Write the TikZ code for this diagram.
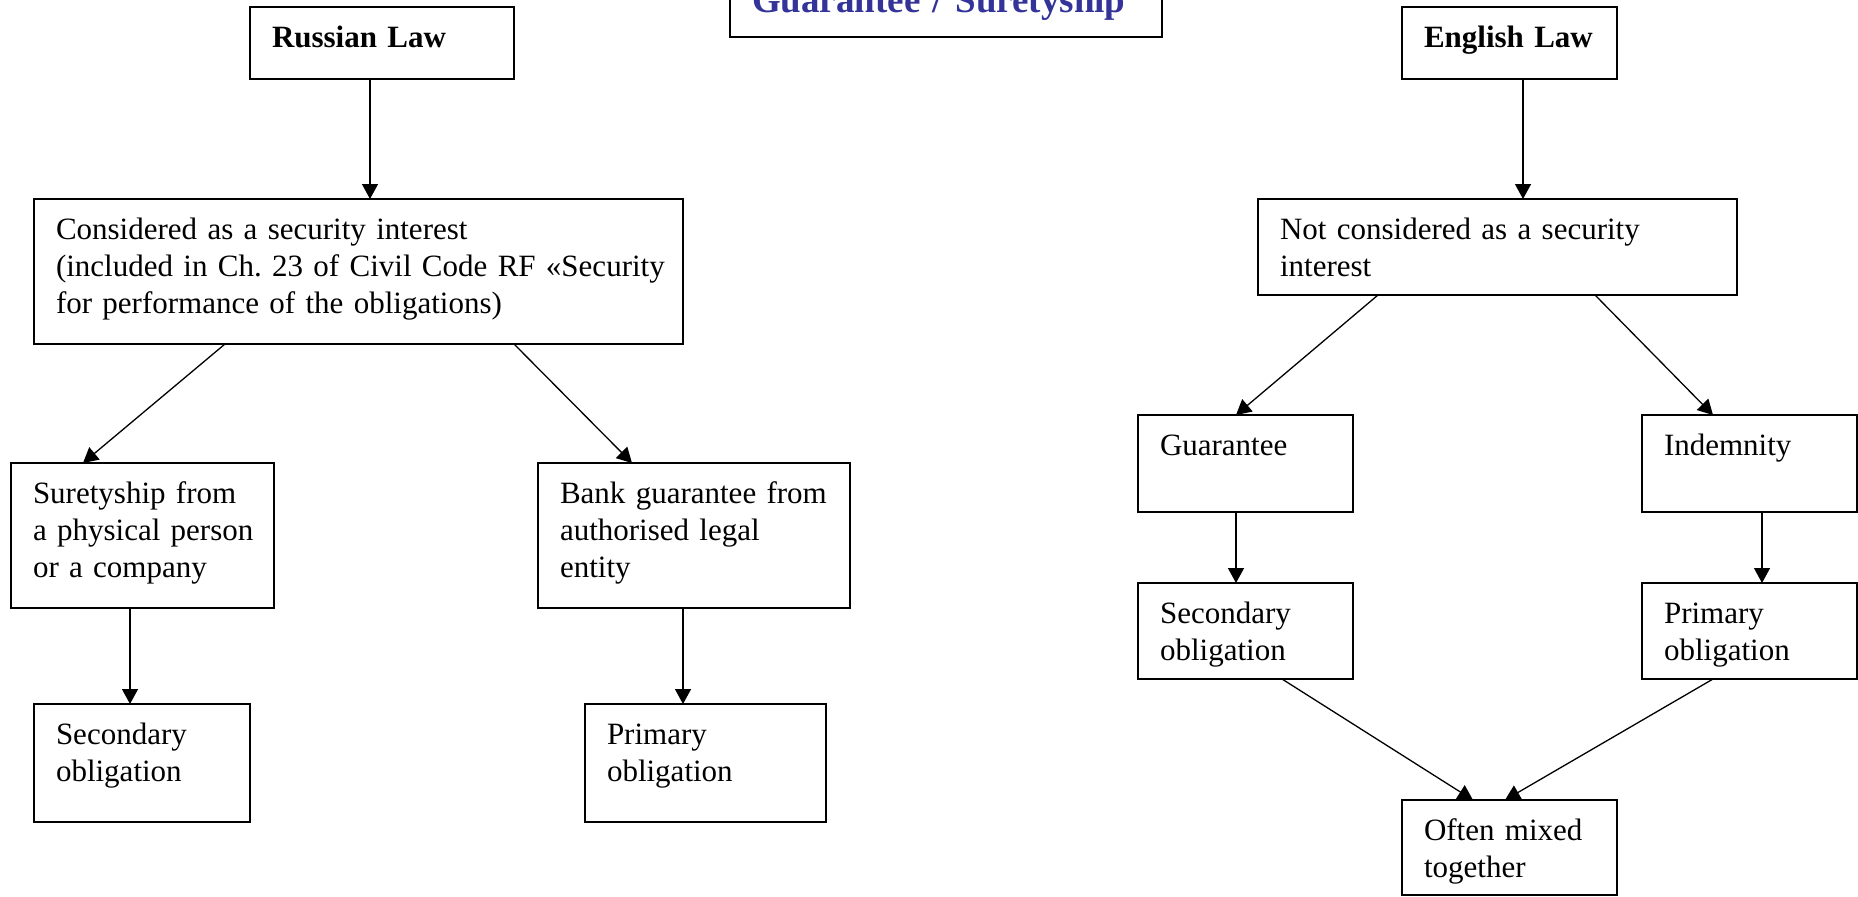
\documentclass[tikz,border=0pt]{standalone}
\usepackage{fontspec}
\setmainfont{Liberation Serif}
\usetikzlibrary{arrows.meta}
\definecolor{TitleClr}{RGB}{51,51,153}
\frenchspacing

\tikzset{
  lawbox/.style={draw, line width=0.75pt, anchor=north west, inner xsep=11pt, inner ysep=0pt,
    outer sep=0pt, text height=20pt, align=left, font=\fontsize{15.5}{18.6}\selectfont},
  headbox/.style={lawbox, font=\fontsize{15.5}{18.6}\selectfont\bfseries},
  arr/.style={line width=0.65pt, -{Triangle[length=7.5pt,width=8pt]}}
}

\begin{document}
\begin{tikzpicture}[x=1pt,y=1pt]
\useasboundingbox (0,0) rectangle (929,-448);
\clip (0,0) rectangle (929,-448);

\node[lawbox, text width=194pt, text depth=12.15pt, text=TitleClr,
  font=\fontsize{18.5}{21}\selectfont\bfseries] (title) at (365,13.65) {Guarantee / Suretyship};

% Russian law
\node[headbox, text width=110pt, text depth=16pt] (rus) at (125,-3.5) {Russian Law};
\node[lawbox, text width=302.5pt, text depth=52.5pt] (cons) at (17,-99.5)
  {Considered as a security interest\\\mbox{(included in Ch. 23 of Civil Code RF «Security}\\for performance of the obligations)};
\node[lawbox, text width=109.5pt, text depth=52.5pt] (surety) at (5.5,-231.5)
  {Suretyship from\\\mbox{a physical person}\\or a company};
\node[lawbox, text width=134pt, text depth=52.5pt] (bank) at (269,-231.5)
  {\mbox{Bank guarantee from}\\authorised legal\\entity};
\node[lawbox, text width=86pt, text depth=39pt] (secL) at (17,-352) {Secondary\\obligation};
\node[lawbox, text width=98.5pt, text depth=39pt] (primL) at (292.5,-352) {Primary\\obligation};

\draw[arr] ([xshift=60pt]rus.south west) -- ([xshift=168pt]cons.north west);
\draw[arr] ([xshift=95.5pt]cons.south west) -- ([xshift=36pt]surety.north west);
\draw[arr] ([xshift=240pt]cons.south west) -- ([xshift=47pt]bank.north west);
\draw[arr] ([xshift=59.5pt]surety.south west) -- ([xshift=48pt]secL.north west);
\draw[arr] ([xshift=72.5pt]bank.south west) -- ([xshift=49pt]primL.north west);

% English law
\node[headbox, text width=85.5pt, text depth=16pt] (eng) at (701,-3.5) {English Law};
\node[lawbox, text width=217.5pt, text depth=28pt] (notcons) at (629,-99.5)
  {Not considered as a security\\interest};
\node[lawbox, text width=85.5pt, text depth=28.5pt] (guar) at (569,-207.5) {Guarantee};
\node[lawbox, text width=85.5pt, text depth=28.5pt] (indem) at (821,-207.5) {Indemnity};
\node[lawbox, text width=85.5pt, text depth=28pt] (secR) at (569,-291.5) {Secondary\\obligation};
\node[lawbox, text width=85.5pt, text depth=28pt] (primR) at (821,-291.5) {Primary\\obligation};
\node[lawbox, text width=85.5pt, text depth=27.5pt] (often) at (701,-400) {Often mixed\\together};

\draw[arr] ([xshift=60.5pt]eng.south west) -- ([xshift=132.5pt]notcons.north west);
\draw[arr] ([xshift=60pt]notcons.south west) -- ([xshift=49pt]guar.north west);
\draw[arr] ([xshift=168.5pt]notcons.south west) -- ([xshift=35.5pt]indem.north west);
\draw[arr] ([xshift=49pt]guar.south west) -- ([xshift=49pt]secR.north west);
\draw[arr] ([xshift=60pt]indem.south west) -- ([xshift=60pt]primR.north west);
\draw[arr] ([xshift=72pt]secR.south west) -- ([xshift=35.5pt]often.north west);
\draw[arr] ([xshift=35.5pt]primR.south west) -- ([xshift=51.5pt]often.north west);
\end{tikzpicture}
\end{document}
